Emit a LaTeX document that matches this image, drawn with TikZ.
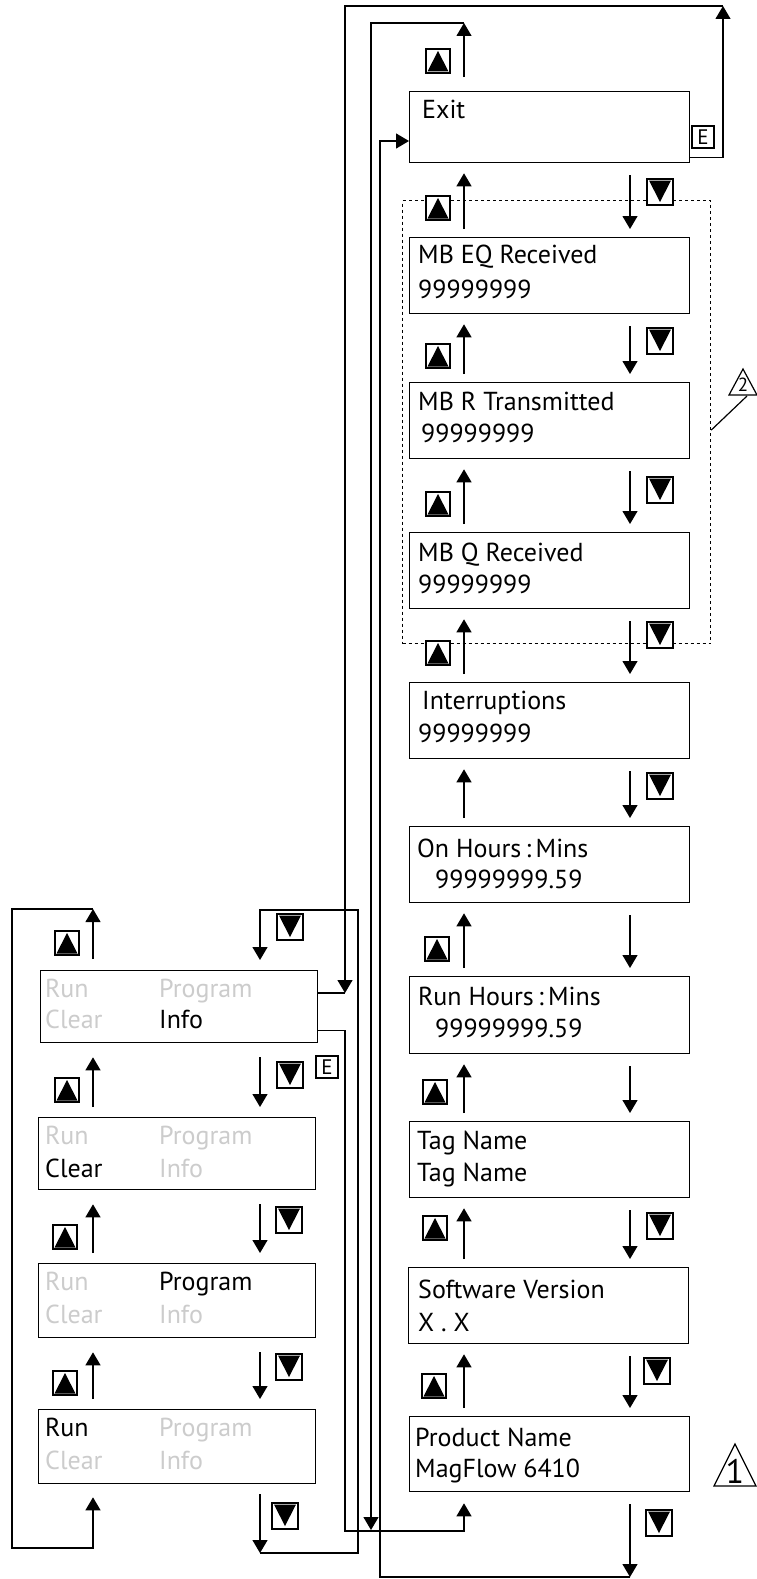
\documentclass[tikz,border=0pt]{standalone}
\usepackage{fontspec}
\setmainfont{PT Sans}
\usetikzlibrary{arrows.meta,calc}
\definecolor{dimtext}{gray}{0.8}
\begin{document}
\begin{tikzpicture}[x=1pt,y=-1pt,
  box/.style={draw, line width=1.3pt, minimum width=280pt, minimum height=76pt, inner sep=0pt, anchor=north west},
  lbox/.style={box, minimum width=277pt, minimum height=73pt},
  txt/.style={anchor=base west, inner sep=0pt, font=\fontsize{26}{30}\selectfont},
  dim/.style={txt, text=dimtext},
  ln/.style={line width=1.2pt},
  arr/.style={ln, -{Triangle[width=15pt,length=13pt]}},
  btn/.style={draw, fill=white, line width=1.2pt, inner sep=0pt, minimum width=#1, minimum height=#1},
  upkey/.style={btn=24pt, path picture={\fill[black] ([xshift=1.5pt,yshift=1.5pt]path picture bounding box.south west) -- ([xshift=-1.5pt,yshift=1.5pt]path picture bounding box.south east) -- ([yshift=-2pt]path picture bounding box.north) -- cycle;}},
  dnkey/.style={btn=26pt, path picture={\fill[black] ([xshift=2pt,yshift=-1.5pt]path picture bounding box.north west) -- ([xshift=-2pt,yshift=-1.5pt]path picture bounding box.north east) -- ([yshift=3pt]path picture bounding box.south) -- cycle;}},
  ekey/.style={btn=22pt, font=\fontsize{21}{21}\selectfont},
  grp/.style={draw, line width=1.2pt, dash pattern=on 3pt off 3pt, anchor=north west, inner sep=0pt, minimum width=308pt, minimum height=443pt}
]
\fill[white] (0,0) rectangle (757,1579);
\useasboundingbox (0,0) rectangle (757,1579);

% column coordinates
\coordinate (U) at (464,0);
\coordinate (D) at (630,0);
\coordinate (LU) at (93,0);
\coordinate (LD) at (260,0);

% dotted group
\node[grp] (grp) at (402,200) {};

% right column boxes
\node[box, minimum height=71pt] (exit) at (409,91) {};
\node[box] (mbeq) at (409,237) {};
\node[box] (mbr) at (409,382) {};
\node[box] (mbq) at (409,532) {};
\node[box] (intr) at (409,682) {};
\node[box] (onh) at (409,826) {};
\node[box, minimum height=77pt] (runh) at (409,976) {};
\node[box] (tag) at (409,1121) {};
\node[box] (sw) at (408,1267) {};
\node[box, minimum height=75pt] (prod) at (409,1416) {};

% left column boxes
\node[lbox, minimum height=72pt] (info) at (40,970) {};
\node[lbox, minimum height=72pt] (clear) at (38,1117) {};
\node[lbox, minimum height=74pt] (prog) at (38,1263) {};
\node[lbox, minimum height=74pt] (run) at (38,1409) {};

% right texts
\node[txt] (exitT) at ($(exit.north west)+(13,27)$) {Exit};
\node[txt] (mbeqT) at ($(mbeq.north west)+(9,26)$) {MB EQ Received};
\node[txt] (mbeqV) at ($(mbeq.north west)+(9,61)$) {99999999};
\node[txt] (mbrT) at ($(mbr.north west)+(9,28)$) {MB R Transmitted};
\node[txt] (mbrV) at ($(mbr.north west)+(12,60)$) {99999999};
\node[txt] (mbqT) at ($(mbq.north west)+(9,29)$) {MB Q Received};
\node[txt] (mbqV) at ($(mbq.north west)+(9,61)$) {99999999};
\node[txt] (intrT) at ($(intr.north west)+(13,27)$) {Interruptions};
\node[txt] (intrV) at ($(intr.north west)+(9,60)$) {99999999};
\node[txt] (onhT) at ($(onh.north west)+(8,31)$) {On Hours\,:\,Mins};
\node[txt] (onhV) at ($(onh.north west)+(26,62)$) {99999999.59};
\node[txt] (runhT) at ($(runh.north west)+(9,29)$) {Run Hours\,:\,Mins};
\node[txt] (runhV) at ($(runh.north west)+(26,61)$) {99999999.59};
\node[txt] (tagT) at ($(tag.north west)+(8,28)$) {Tag Name};
\node[txt] (tagV) at ($(tag.north west)+(8,60)$) {Tag Name};
\node[txt] (swT) at ($(sw.north west)+(10,31)$) {Software Version};
\node[txt] (swV) at ($(sw.north west)+(10,64)$) {X . X};
\node[txt] (prodT) at ($(prod.north west)+(6,30)$) {Product Name};
\node[txt] (prodV) at ($(prod.north west)+(6,61)$) {MagFlow 6410};

% left texts
\node[dim] (infoA) at ($(info.north west)+(5,27)$) {Run};
\node[dim] (infoB) at ($(info.north west)+(119,27)$) {Program};
\node[dim] (infoC) at ($(info.north west)+(5,58)$) {Clear};
\node[txt] (infoD) at ($(info.north west)+(119,58)$) {Info};
\node[dim] (clearA) at ($(clear.north west)+(7,27)$) {Run};
\node[dim] (clearB) at ($(clear.north west)+(121,27)$) {Program};
\node[txt] (clearC) at ($(clear.north west)+(7,60)$) {Clear};
\node[dim] (clearD) at ($(clear.north west)+(121,60)$) {Info};
\node[dim] (progA) at ($(prog.north west)+(7,27)$) {Run};
\node[txt] (progB) at ($(prog.north west)+(121,27)$) {Program};
\node[dim] (progC) at ($(prog.north west)+(7,60)$) {Clear};
\node[dim] (progD) at ($(prog.north west)+(121,60)$) {Info};
\node[txt] (runA) at ($(run.north west)+(7,27)$) {Run};
\node[dim] (runB) at ($(run.north west)+(121,27)$) {Program};
\node[dim] (runC) at ($(run.north west)+(7,60)$) {Clear};
\node[dim] (runD) at ($(run.north west)+(121,60)$) {Info};

% right column short arrows
\foreach \a/\b in {exit/mbeq, mbeq/mbr, mbr/mbq, mbq/intr, intr/onh, onh/runh, runh/tag, tag/sw, sw/prod} {
  \draw[arr] ([yshift=8pt]\b.north -| U) -- ([yshift=-10pt]\a.south -| U);
  \draw[arr] ([yshift=-12pt]\a.south -| D) -- ([yshift=8pt]\b.north -| D);
}
% left column short arrows
\foreach \a/\b in {info/clear, clear/prog, prog/run} {
  \draw[arr] ([yshift=10pt]\b.north -| LU) -- ([yshift=-14pt]\a.south -| LU);
  \draw[arr] ([yshift=-14pt]\a.south -| LD) -- ([yshift=10pt]\b.north -| LD);
}

% Exit --E--> main menu (Info)
\coordinate (c1a) at (723,6);
\coordinate (c1b) at (345,6);
\coordinate (iin) at ([yshift=-23pt]info.north east);
\draw[arr] ([yshift=6pt]exit.south east) -| (c1a);
\draw[arr] (c1a) -- (c1b) -- (iin -| c1b);
\draw[ln] (iin) -- (iin -| c1b);

% Run down -> Info
\coordinate (c2a) at (358,1553);
\coordinate (c2b) at (358,910);
\draw[arr] ([yshift=-10pt]run.south -| LD) -- (c2a -| LD);
\draw[arr] (c2a -| LD) -- (c2a) -- (c2b) -- (c2b -| LD) -- ([yshift=10pt]info.north -| LD);

% Info up -> Run
\coordinate (c3a) at (12,909);
\coordinate (c3b) at (12,1548);
\draw[arr] ([yshift=11pt]info.north -| LU) -- (c3a -| LU);
\draw[arr] (c3a -| LU) -- (c3a) -- (c3b) -- (c3b -| LU) -- ([yshift=-13pt]run.south -| LU);

% Info --E--> Product Name
\coordinate (iout) at ([yshift=13pt]info.south east);
\coordinate (c6a) at (345,1531);
\draw[arr] (iout) -- (iout -| c6a) -- (c6a) -- (c6a -| U) -- ([yshift=-11pt]prod.south -| U);

% Exit up -> Product Name
\coordinate (c4a) at (371,23);
\coordinate (c4b) at (371,1530);
\draw[arr] ([yshift=14pt]exit.north -| U) -- (c4a -| U);
\draw[arr] (c4a -| U) -- (c4a) -- (c4b);

% Product down -> Exit
\coordinate (c5a) at (380,1577);
\coordinate (ein) at ([yshift=-50pt]exit.north west);
\draw[arr] ([yshift=-12pt]prod.south -| D) -- (c5a -| D);
\draw[arr] (c5a -| D) -- (c5a) -- (c5a |- ein) -- (ein);

% key icons right column
\node[upkey] (k1) at (438,61) {};
\node[upkey] (k2) at (438,208) {};
\node[dnkey] (k3) at (660,192) {};
\node[upkey] (k4) at (438,356) {};
\node[dnkey] (k5) at (660,341) {};
\node[upkey] (k6) at (438,504) {};
\node[dnkey] (k7) at (660,490) {};
\node[upkey] (k8) at (438,653) {};
\node[dnkey] (k9) at (660,635) {};
\node[dnkey] (k10) at (660,786) {};
\node[upkey] (k11) at (437,949) {};
\node[upkey] (k12) at (435,1092) {};
\node[upkey] (k13) at (435,1228) {};
\node[dnkey] (k14) at (660,1226) {};
\node[upkey] (k15) at (434,1386) {};
\node[dnkey] (k16) at (657,1371) {};
\node[dnkey] (k17) at (659,1523) {};
\node[ekey] (e1) at (703,137) {E};

% key icons left column
\node[upkey] (l1) at (67,943) {};
\node[dnkey] (l2) at (290,927) {};
\node[upkey] (l3) at (67,1090) {};
\node[dnkey] (l4) at (290,1075) {};
\node[ekey] (e2) at (327,1067) {E};
\node[upkey] (l5) at (65,1237) {};
\node[dnkey] (l6) at (289,1220) {};
\node[upkey] (l7) at (65,1383) {};
\node[dnkey] (l8) at (289,1367) {};
\node[dnkey] (l9) at (285,1516) {};

% note triangles
\node[inner sep=0pt, font=\fontsize{34}{34}\selectfont] (n1) at (735,1471) {1};
\draw[ln] (714,1486) -- (735,1444) -- (756,1486) -- cycle;
\node[inner sep=0pt, font=\fontsize{19}{19}\selectfont] (n2) at (743,385) {2};
\draw[ln] (729,395) -- (743,369) -- (757,395) -- cycle;
\coordinate (p2) at (747,396);
\draw[ln] ([yshift=-8pt]grp.east) -- (p2);
\end{tikzpicture}
\end{document}
